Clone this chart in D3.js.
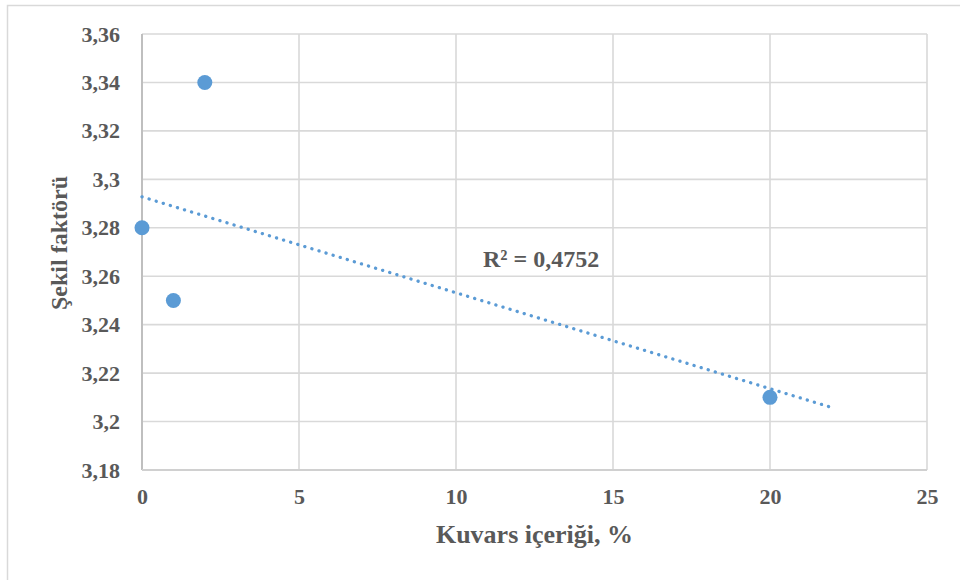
<!DOCTYPE html>
<html>
<head>
<meta charset="utf-8">
<script src="https://cdn.jsdelivr.net/npm/d3@7"></script>
<style>
  html, body { margin: 0; padding: 0; background: #fff; }
  svg { display: block; }
  text { font-family: "Liberation Serif", "Times New Roman", serif; font-weight: bold; fill: #595959; }
</style>
</head>
<body>
<svg id="chart" width="960" height="580"></svg>
<script>
// Quartz content (%) and shape factor measurements
const quartzPct = [0, 1, 2, 20];
const shapeFactor = [3.28, 3.25, 3.34, 3.21];

// Axis ticks
const xTicks = [0, 5, 10, 15, 20, 25];
const yTicks = [3.18, 3.20, 3.22, 3.24, 3.26, 3.28, 3.30, 3.32, 3.34, 3.36];

// Text
const xTitle = "Kuvars içeriği, %";
const yTitle = "Şekil faktörü";
const trendForwardTo = 22;

const svg = d3.select("#chart");
const W = 960, H = 580;
const plot = { left: 142, right: 927, top: 34, bottom: 470 };

const x = d3.scaleLinear().domain([0, 25]).range([plot.left, plot.right]);
const y = d3.scaleLinear().domain([3.18, 3.36]).range([plot.bottom, plot.top]);

const fmt = v => {
  let s = d3.format(".2f")(v).replace(/0+$/, "").replace(/\.$/, "");
  return s.replace(".", ",");
};

// Chart frame
svg.append("path")
  .attr("d", `M7.5,${H} V5.5 H${W}`)
  .attr("fill", "none").attr("stroke", "#d9d9d9").attr("stroke-width", 1.5);

// Gridlines
const grid = svg.append("g");
grid.selectAll("line.h").data(yTicks.slice(1)).join("line")
  .attr("x1", plot.left).attr("x2", plot.right)
  .attr("y1", d => y(d)).attr("y2", d => y(d))
  .attr("stroke", "#d9d9d9").attr("stroke-width", 1.6);
grid.selectAll("line.v").data(xTicks.slice(1)).join("line")
  .attr("y1", plot.top).attr("y2", plot.bottom)
  .attr("x1", d => x(d)).attr("x2", d => x(d))
  .attr("stroke", "#d9d9d9").attr("stroke-width", 1.6);

// Axes lines
svg.append("line")
  .attr("x1", x(0)).attr("x2", x(0)).attr("y1", plot.top).attr("y2", plot.bottom)
  .attr("stroke", "#bfbfbf").attr("stroke-width", 2);
svg.append("line")
  .attr("x1", plot.left).attr("x2", plot.right).attr("y1", y(3.18)).attr("y2", y(3.18))
  .attr("stroke", "#d0d0d0").attr("stroke-width", 2);

// Tick labels via d3 axes (lines hidden)
const yAxis = svg.append("g")
  .attr("transform", `translate(${plot.left},0)`)
  .call(d3.axisLeft(y).tickValues(yTicks).tickFormat(fmt).tickSize(0).tickPadding(22));
const xAxis = svg.append("g")
  .attr("transform", `translate(0,${plot.bottom})`)
  .call(d3.axisBottom(x).tickValues(xTicks).tickFormat(d3.format("d")).tickSize(0).tickPadding(18));
[yAxis, xAxis].forEach(a => {
  a.select(".domain").remove();
  a.selectAll("text")
    .attr("font-family", "Liberation Serif, Times New Roman, serif")
    .attr("font-weight", "bold")
    .attr("font-size", 22)
    .attr("fill", "#595959");
});

// Linear trendline (least squares)
const n = quartzPct.length;
const mx = d3.mean(quartzPct), my = d3.mean(shapeFactor);
let sxy = 0, sxx = 0, syy = 0;
for (let i = 0; i < n; i++) {
  sxy += (quartzPct[i] - mx) * (shapeFactor[i] - my);
  sxx += (quartzPct[i] - mx) ** 2;
  syy += (shapeFactor[i] - my) ** 2;
}
const slope = sxy / sxx, intercept = my - slope * mx;
const r2 = (sxy * sxy) / (sxx * syy);

svg.append("line")
  .attr("x1", x(0)).attr("y1", y(intercept))
  .attr("x2", x(trendForwardTo)).attr("y2", y(intercept + slope * trendForwardTo))
  .attr("stroke", "#5b9bd5").attr("stroke-width", 3.3)
  .attr("stroke-linecap", "round").attr("stroke-dasharray", "0.1 7.3");

// Data points
svg.append("g").selectAll("circle")
  .data(quartzPct.map((d, i) => [d, shapeFactor[i]]))
  .join("circle")
  .attr("cx", d => x(d[0])).attr("cy", d => y(d[1])).attr("r", 7.5)
  .attr("fill", "#5b9bd5");

// R² label
svg.append("text")
  .attr("x", 483).attr("y", 267)
  .attr("font-size", 24)
  .text("R² = " + d3.format(".4f")(r2).replace(".", ","));

// Axis titles
svg.append("text")
  .attr("x", (plot.left + plot.right) / 2).attr("y", 543)
  .attr("text-anchor", "middle").attr("font-size", 26)
  .text(xTitle);
svg.append("text")
  .attr("transform", `translate(67,243) rotate(-90)`)
  .attr("text-anchor", "middle").attr("font-size", 24)
  .text(yTitle);
</script>
</body>
</html>
